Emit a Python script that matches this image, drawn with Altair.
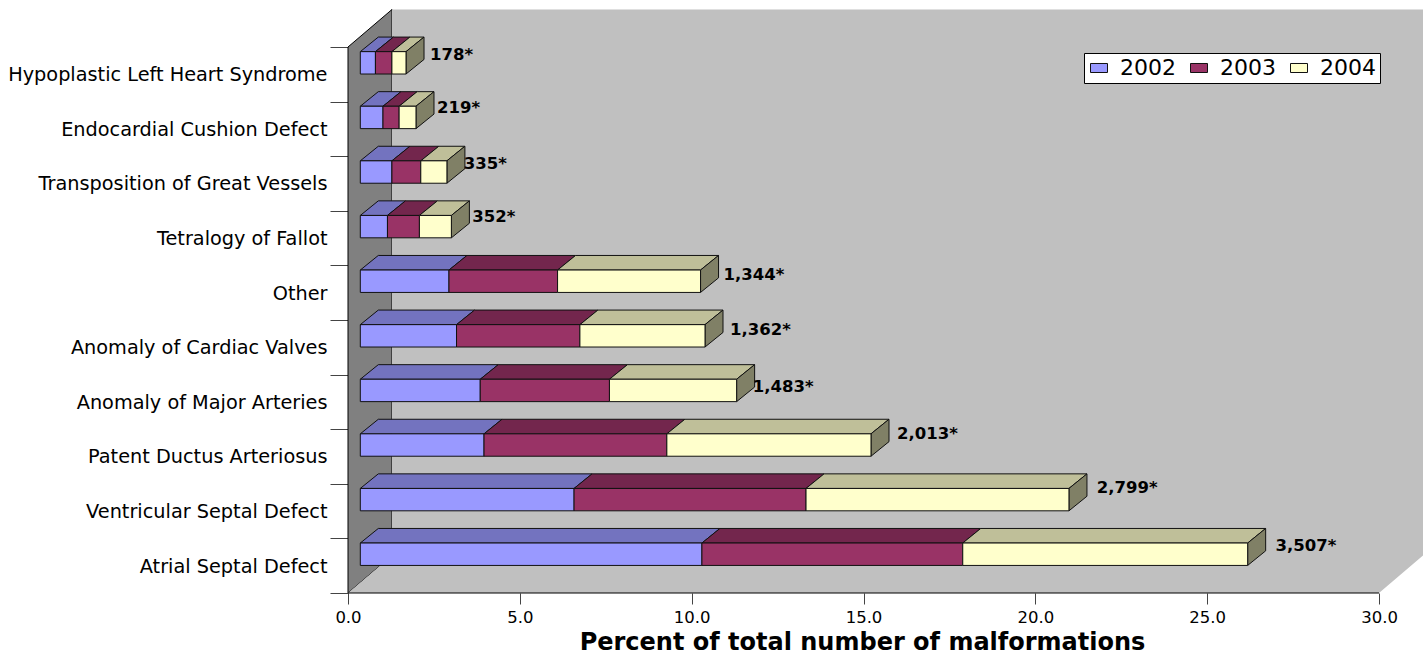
import altair as alt
import pandas as pd

# Categories from the bottom of the chart upward
categories = ["Atrial Septal Defect", "Ventricular Septal Defect", "Patent Ductus Arteriosus",
              "Anomaly of Major Arteries", "Anomaly of Cardiac Valves", "Other",
              "Tetralogy of Fallot", "Transposition of Great Vessels",
              "Endocardial Cushion Defect", "Hypoplastic Left Heart Syndrome"]
years = ["2002", "2003", "2004"]
v2002 = [9.94, 6.22, 3.60, 3.49, 2.80, 2.58, 0.79, 0.92, 0.66, 0.44]
v2003 = [7.59, 6.75, 5.32, 3.76, 3.59, 3.16, 0.93, 0.84, 0.47, 0.48]
v2004 = [8.29, 7.65, 5.94, 3.70, 3.64, 4.16, 0.93, 0.76, 0.49, 0.41]
counts = ["3,507*", "2,799*", "2,013*", "1,483*", "1,362*", "1,344*", "352*", "335*", "219*", "178*"]

# Hand placement of the count labels, in axis units
count_dx = [0.81, 0.81, 0.76, 0.47, 0.73, 0.67, 0.61, 0.49, 0.61, 0.70]
count_dy = [0.156, 0.212, 0.20, 0.062, 0.11, 0.11, 0.176, 0.147, 0.172, 0.147]

front = {"2002": "#9999FF", "2003": "#993366", "2004": "#FFFFCC"}
top = {"2002": "#7373BF", "2003": "#73264D", "2004": "#BFBF99"}
side = "#808066"

FONT = "DejaVu Sans"
AXIS_MAX = 30
X_END = 31.28
Y_END = 10.696
WALL_X, WALL_Y = 1.28, 0.687       # depth of the box
START = 0.358                      # bars stand slightly off the side wall
BAR_X, BAR_Y = 0.524, 0.267        # depth of a bar
BAR_BOTTOM, BAR_H = 0.505, 0.41    # within one category band

n = len(categories)

x_enc = alt.X("x:Q", scale=alt.Scale(domain=[0, X_END], nice=False, zero=False), axis=alt.Axis(
    values=list(range(0, AXIS_MAX + 1, 5)), format=".1f", domain=False, grid=False,
    tickColor="#444444", tickSize=11, labelFont=FONT, labelFontSize=16.5, labelColor="black",
    labelPadding=5, labelFlush=False, labelBound=False, labelOverlap=False,
    title="Percent of total number of malformations",
    titleFont=FONT, titleFontSize=24, titleFontWeight="bold", titleColor="black",
    titleX=514, titleY=49, titleBaseline="middle", titleAnchor="middle", titleAlign="center"))
y_enc = alt.Y("y:Q", scale=alt.Scale(domain=[0, Y_END], nice=False, zero=False), axis=alt.Axis(
    values=list(range(n + 1)), domain=False, grid=False, title=None,
    tickColor="#444444", tickSize=18, labelFont=FONT, labelFontSize=19.3, labelColor="black",
    labelPadding=3, labelOffset=-27, labelBound=False, labelFlush=False, labelOverlap=False,
    labelLimit=340,
    labelExpr="datum.value < 10 ? " + repr(categories) + "[datum.value] : ''"))

fronts, tops, sides, labels = [], [], [], []
for i, cat in enumerate(categories):
    lo = START
    bottom, upper = i + BAR_BOTTOM, i + BAR_BOTTOM + BAR_H
    for year, series in zip(years, (v2002, v2003, v2004)):
        hi = lo + series[i]
        fronts.append(dict(year=year, x=lo, x2=hi, y=bottom, y2=upper))
        key = f"{i}-{year}"
        tops.append(dict(key=key, fill=top[year], y=upper, x=lo, x2=hi))
        tops.append(dict(key=key, fill=top[year], y=upper + BAR_Y, x=lo + BAR_X, x2=hi + BAR_X))
        lo = hi
    sides.append(dict(key=i, x=lo, y=bottom, y2=upper))
    sides.append(dict(key=i, x=lo + BAR_X, y=bottom + BAR_Y, y2=upper + BAR_Y))
    labels.append(dict(x=lo + count_dx[i], y=(bottom + upper) / 2 + count_dy[i], text=counts[i]))

# Box: side wall, then floor and back wall as one shape
wall = alt.Chart(pd.DataFrame([
    dict(x=0, y=0, y2=n), dict(x=WALL_X, y=WALL_Y, y2=n + WALL_Y)
])).mark_area(orient="vertical", color="#808080", stroke="black", strokeWidth=1).encode(
    x=x_enc, y=y_enc, y2="y2:Q")

backdrop = alt.Chart(pd.DataFrame([
    dict(y=0, x=0, x2=AXIS_MAX),
    dict(y=WALL_Y, x=WALL_X, x2=AXIS_MAX + WALL_X),
    dict(y=n + WALL_Y, x=WALL_X, x2=AXIS_MAX + WALL_X),
])).mark_area(orient="horizontal", color="#C0C0C0").encode(
    x=x_enc, x2="x2:Q", y=y_enc)

base_line = alt.Chart(pd.DataFrame([dict(x=0, x2=AXIS_MAX, y=0)])).mark_rule(
    color="black", strokeWidth=1).encode(x=x_enc, x2="x2:Q", y=y_enc)

# Bars
top_faces = alt.Chart(pd.DataFrame(tops)).mark_area(
    orient="horizontal", stroke="#111111", strokeWidth=1).encode(
    x=x_enc, x2="x2:Q", y=y_enc, detail="key:N", fill=alt.Fill("fill:N", scale=None))

side_faces = alt.Chart(pd.DataFrame(sides)).mark_area(
    orient="vertical", color=side, stroke="#111111", strokeWidth=1).encode(
    x=x_enc, y=y_enc, y2="y2:Q", detail="key:N")

front_faces = alt.Chart(pd.DataFrame(fronts)).mark_rect(
    stroke="#111111", strokeWidth=1).encode(
    x=x_enc, x2="x2:Q", y=y_enc, y2="y2:Q",
    color=alt.Color("year:N", scale=alt.Scale(domain=years, range=[front[y] for y in years]),
                    legend=alt.Legend(
                        title=None, orient="none", legendX=736, legendY=44, direction="horizontal",
                        columns=3, fillColor="white", strokeColor="black", padding=4,
                        symbolType="M-1,-0.53H1V0.53H-1Z", symbolSize=289, symbolStrokeColor="#111111",
                        symbolStrokeWidth=1, labelFont=FONT, labelFontSize=22, labelColor="black",
                        labelOffset=10, columnPadding=12)))

count_text = alt.Chart(pd.DataFrame(labels)).mark_text(
    align="left", baseline="middle", font=FONT, fontSize=16.5, fontWeight="bold", color="black").encode(
    x=x_enc, y=y_enc, text="text:N")

chart = alt.layer(wall, backdrop, base_line, top_faces, side_faces, front_faces, count_text).properties(
    width=1075, height=584,
    padding={"left": 348, "top": 9, "right": 0, "bottom": 62},
    autosize=alt.AutoSizeParams(type="none"),
    background="white",
).configure_view(stroke=None)

chart.save("out.html", embed_options={"renderer": "svg", "actions": False})
